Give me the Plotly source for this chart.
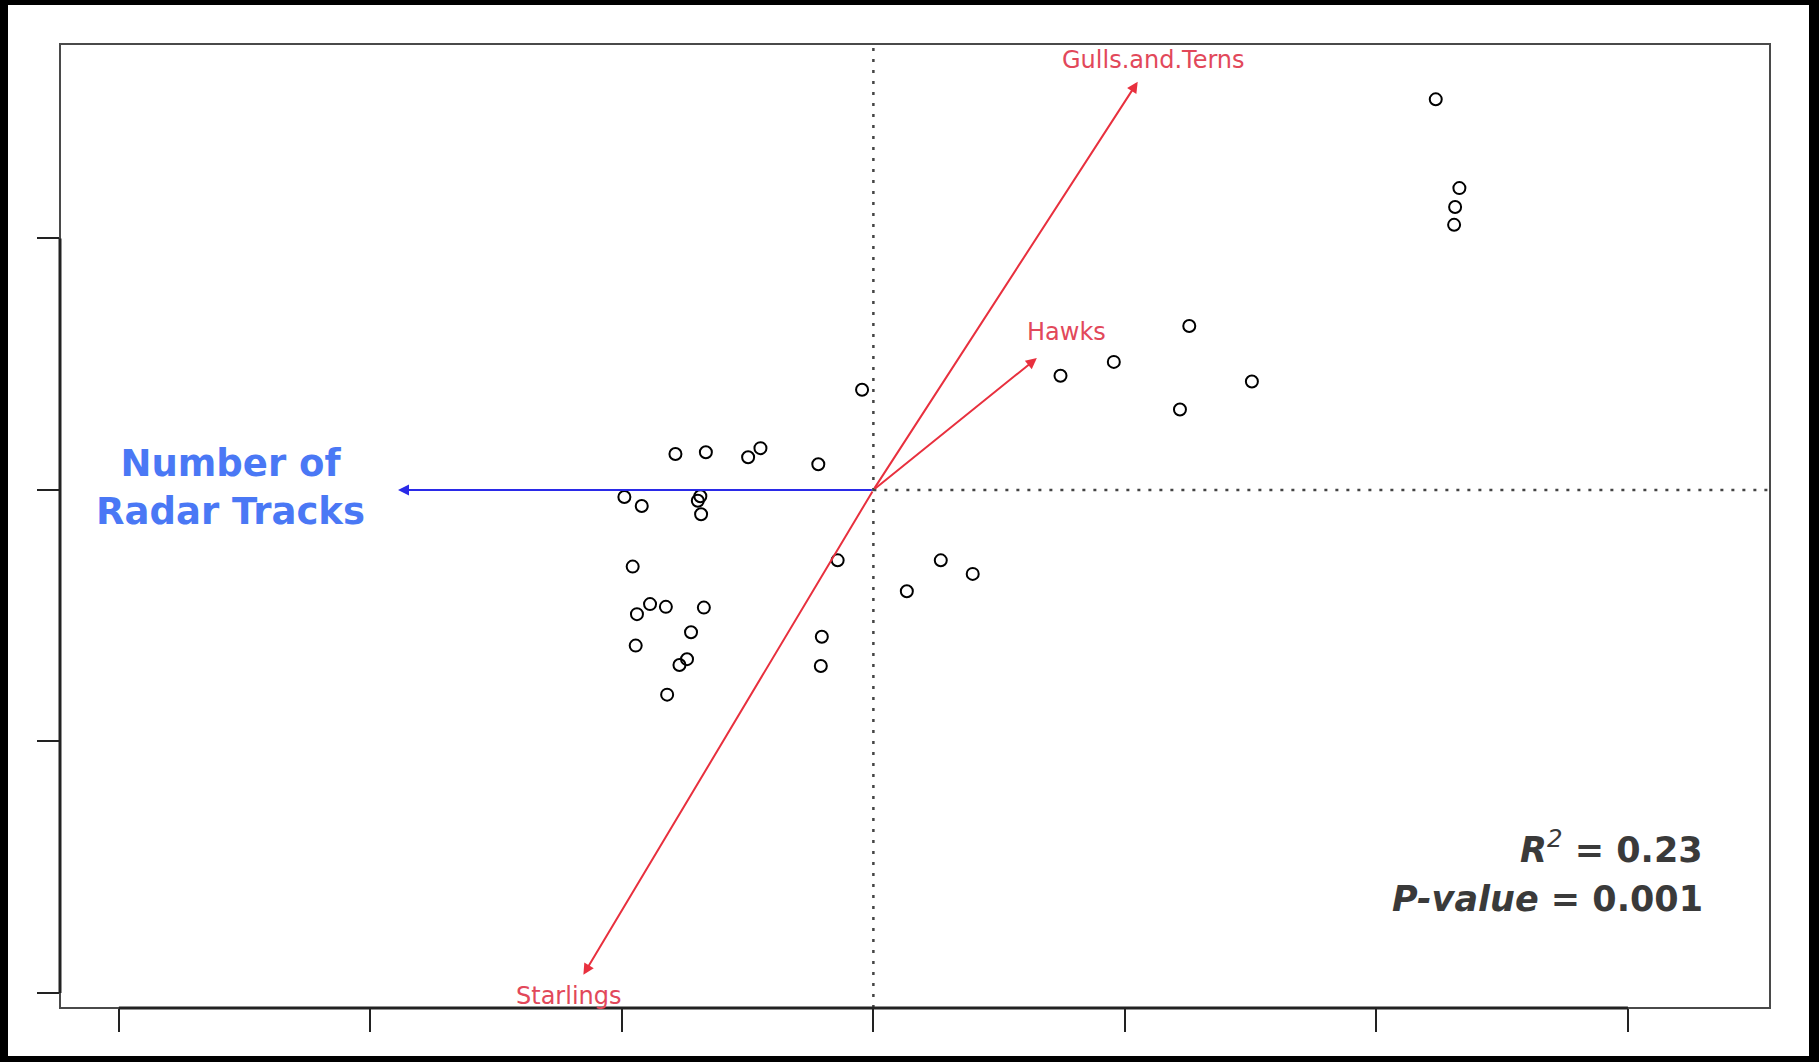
import plotly.graph_objects as go

# Site scores (ordination axes, in tick units)
site_x = [2.236, 2.330, 2.313, 2.309, 1.256, 0.956, 0.744, 1.505, 1.219,
          -0.045, -0.787, -0.666, -0.498, -0.449, -0.219, -0.990, -0.921,
          -0.688, -0.698, -0.685, -0.957, -0.142, 0.268, 0.395, 0.133,
          -0.888, -0.825, -0.674, -0.940, -0.725, -0.945, -0.205, -0.741,
          -0.771, -0.209, -0.820]
site_y = [1.553, 1.200, 1.125, 1.054, 0.652, 0.509, 0.454, 0.431, 0.320,
          0.398, 0.143, 0.150, 0.130, 0.166, 0.102, -0.028, -0.064,
          -0.025, -0.043, -0.097, -0.305, -0.280, -0.280, -0.334, -0.403,
          -0.454, -0.465, -0.468, -0.494, -0.566, -0.619, -0.584, -0.673,
          -0.696, -0.700, -0.814]

# Species vectors
species = ["Gulls.and.Terns", "Hawks", "Starlings"]
species_x = [1.051, 0.650, -1.153]
species_y = [1.623, 0.524, -1.928]
label_x = [1.112, 0.766, -1.211]
label_y = [1.710, 0.629, -2.014]

# Environmental vector
env_name = "Number of<br>Radar Tracks"
env_x = -1.890
env_y = 0.0

x_ticks = [-3, -2, -1, 0, 1, 2, 3]
y_ticks = [-2, -1, 0, 1]
x_range = [-3.234, 3.565]
y_range = [-2.060, 1.773]

stats_lines = ["<b><i>R</i></b><sup><i>2</i></sup><b> = 0.23</b>",
               "<b><i>P-value</i> = 0.001</b>"]
stats_y = [-1.420, -1.625]
stats_x = 3.307

RED = "#e8303e"
RED_TXT = "#e2485a"
BLUE = "#2a2ae8"

fig = go.Figure()

fig.add_trace(go.Scatter(
    x=site_x, y=site_y, mode="markers",
    marker=dict(symbol="circle-open", size=12, color="black",
                line=dict(width=2, color="black")),
    showlegend=False, hoverinfo="skip"))

shapes = []
# dotted reference lines
shapes.append(dict(type="line", xref="x", yref="y", x0=0, x1=0,
                   y0=y_range[0], y1=y_range[1],
                   line=dict(color="#444444", width=2.5, dash="3px,8px")))
shapes.append(dict(type="line", xref="x", yref="y", x0=0, x1=x_range[1],
                   y0=0, y1=0,
                   line=dict(color="#444444", width=2.5, dash="3px,8px")))
# box
shapes.append(dict(type="rect", xref="paper", yref="paper", x0=0, x1=1, y0=0, y1=1,
                   line=dict(color="#4a4a4a", width=2), layer="above"))
# axis lines between first and last tick
shapes.append(dict(type="line", xref="x", yref="paper", x0=x_ticks[0], x1=x_ticks[-1],
                   y0=0, y1=0, line=dict(color="#222222", width=3), layer="above"))
shapes.append(dict(type="line", xref="paper", yref="y", x0=0, x1=0,
                   y0=y_ticks[0], y1=y_ticks[-1], line=dict(color="#222222", width=3), layer="above"))

# outer black frame (image pixel -> paper)
L, T, W, H = 60, 44, 1710, 964
def px(p):
    return (p - L) / W
def py(p):
    return (T + H - p) / H
for (a, b, c, d) in [(0, 8, 0, 1062), (1809, 1819, 0, 1062), (0, 1819, 0, 5), (0, 1819, 1056, 1062)]:
    shapes.append(dict(type="rect", xref="paper", yref="paper",
                       x0=px(a), x1=px(b), y0=py(d), y1=py(c),
                       fillcolor="black", line=dict(width=0), layer="above"))

annotations = []
for name, sx, sy, lx, ly in zip(species, species_x, species_y, label_x, label_y):
    annotations.append(dict(x=sx, y=sy, ax=0, ay=0, xref="x", yref="y",
                            axref="x", ayref="y", text="", showarrow=True,
                            arrowhead=2, arrowsize=1.1, arrowwidth=2, arrowcolor=RED,
                            standoff=0, startstandoff=0))
    annotations.append(dict(x=lx, y=ly, xref="x", yref="y", text=name, showarrow=False,
                            font=dict(family="DejaVu Sans", size=24, color=RED_TXT)))

annotations.append(dict(x=env_x, y=env_y, ax=0, ay=0, xref="x", yref="y",
                        axref="x", ayref="y", text="", showarrow=True,
                        arrowhead=2, arrowsize=1.1, arrowwidth=2, arrowcolor=BLUE,
                        standoff=0, startstandoff=0))
annotations.append(dict(x=-2.558, y=0.01, xref="x", yref="y", text="<b>" + env_name + "</b>",
                        showarrow=False, align="center",
                        font=dict(family="DejaVu Sans", size=37, color="#4a78f5")))

for line, sy in zip(stats_lines, stats_y):
    annotations.append(dict(x=stats_x, y=sy, xref="x", yref="y", text=line,
                            showarrow=False, xanchor="right", align="right",
                            font=dict(family="DejaVu Sans", size=35, color="#3a3a3a")))

fig.update_layout(
    width=1819, height=1062,
    margin=dict(l=60, r=49, t=44, b=54),
    paper_bgcolor="white", plot_bgcolor="white",
    shapes=shapes, annotations=annotations,
    xaxis=dict(range=x_range, tickvals=x_ticks, showticklabels=False,
               ticks="outside", ticklen=23, tickwidth=2, tickcolor="#222222",
               showgrid=False, zeroline=False, showline=False),
    yaxis=dict(range=y_range, tickvals=y_ticks, showticklabels=False,
               ticks="outside", ticklen=22, tickwidth=2, tickcolor="#222222",
               showgrid=False, zeroline=False, showline=False),
    showlegend=False,
)

fig.write_html("out.html", config={"displayModeBar": False},
               post_script="document.body.style.margin='0px';document.body.style.overflow='hidden';")
